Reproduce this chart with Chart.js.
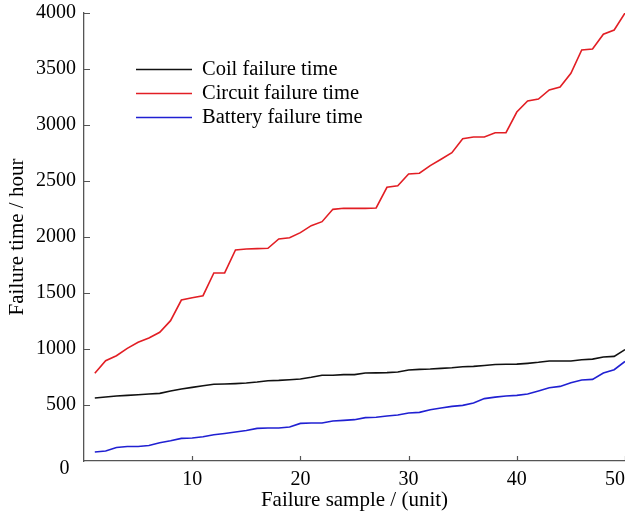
<!DOCTYPE html>
<html>
<head>
<meta charset="utf-8">
<script src="https://cdn.jsdelivr.net/npm/chart.js@4.4.0/dist/chart.umd.min.js"></script>
<style>
  html, body { margin: 0; padding: 0; background: #fff; }
  #wrap { width: 625px; height: 513px; }
</style>
</head>
<body>
<div id="wrap"><canvas id="grafico"></canvas></div>
<script>
// muestras 1..50
const muestras = Array.from({ length: 50 }, (_, i) => i + 1);

const coilFailure = [562, 571, 580, 586, 592, 598, 604, 625, 643, 657,
    672, 685, 688, 691, 696, 705, 717, 720, 726, 732,
    747, 765, 765, 771, 771, 786, 787, 789, 795, 812,
    818, 821, 827, 833, 842, 845, 853, 862, 864, 865,
    872, 881, 893, 893, 893, 904, 910, 929, 934, 995];

const circuitFailure = [783, 896, 940, 1006, 1060, 1098, 1149, 1253, 1437, 1458,
    1476, 1679, 1679, 1884, 1893, 1896, 1899, 1982, 1994, 2039,
    2101, 2137, 2247, 2256, 2256, 2256, 2259, 2444, 2458, 2562,
    2569, 2637, 2694, 2753, 2878, 2893, 2893, 2931, 2931, 3116,
    3214, 3232, 3313, 3339, 3461, 3670, 3679, 3810, 3848, 4000];

const batteryFailure = [80, 89, 121, 130, 130, 139, 163, 181, 202, 205,
    217, 235, 246, 259, 273, 291, 295, 295, 304, 336,
    339, 339, 357, 363, 369, 387, 391, 402, 411, 429,
    434, 458, 473, 488, 497, 518, 557, 570, 580, 586,
    598, 625, 654, 666, 699, 723, 729, 786, 815, 889];

const xTicks = [0, 10, 20, 30, 40, 50];
const yTicks = [0, 500, 1000, 1500, 2000, 2500, 3000, 3500, 4000];

const toPoints = arr => arr.map((v, i) => ({ x: muestras[i], y: v }));

const fuente = "'Liberation Serif', 'DejaVu Serif', serif";
Chart.defaults.font.family = fuente;
Chart.defaults.font.size = 20;
Chart.defaults.color = '#000';

// ticks hacia dentro + etiqueta del cero (va un poco mas abajo en el original)
const ticksInternos = {
    id: 'ticksInternos',
    afterDatasetsDraw(chart) {
        const { ctx, chartArea, scales } = chart;
        ctx.save();
        ctx.strokeStyle = '#555';
        ctx.lineWidth = 1.2;
        ctx.beginPath();
        xTicks.forEach(t => {
            if (t === 0) return;
            const px = Math.round(scales.x.getPixelForValue(t)) + 0.5;
            ctx.moveTo(px, chartArea.bottom);
            ctx.lineTo(px, chartArea.bottom - 5);
        });
        yTicks.forEach(t => {
            if (t === 0) return;
            const py = Math.round(scales.y.getPixelForValue(t)) + 0.5;
            ctx.moveTo(chartArea.left, py);
            ctx.lineTo(chartArea.left + 6, py);
        });
        ctx.stroke();

        ctx.font = '20px ' + fuente;
        ctx.fillStyle = '#000';
        ctx.textAlign = 'center';
        ctx.textBaseline = 'middle';
        ctx.fillText(String(yTicks[0]), chartArea.left - 19.5, scales.y.getPixelForValue(yTicks[0]) + 8);
        ctx.restore();
    }
};

// leyenda dentro del grafico
const leyenda = {
    id: 'leyenda',
    afterDatasetsDraw(chart) {
        const { ctx } = chart;
        ctx.save();
        ctx.font = '20.5px ' + fuente;
        ctx.textBaseline = 'middle';
        ctx.textAlign = 'left';
        chart.data.datasets.forEach((ds, i) => {
            const y = 69 + i * 24;
            ctx.strokeStyle = ds.borderColor;
            ctx.lineWidth = 1.6;
            ctx.beginPath();
            ctx.moveTo(136, y + 0.5);
            ctx.lineTo(192, y + 0.5);
            ctx.stroke();
            ctx.fillStyle = '#000';
            ctx.fillText(ds.label, 202, y + 1);
        });
        ctx.restore();
    }
};

new Chart(document.getElementById('grafico'), {
    type: 'line',
    data: {
        datasets: [
            { label: 'Coil failure time', data: toPoints(coilFailure), borderColor: '#111111', borderWidth: 1.6, pointRadius: 0, tension: 0 },
            { label: 'Circuit failure time', data: toPoints(circuitFailure), borderColor: 'rgb(226,30,36)', borderWidth: 1.6, pointRadius: 0, tension: 0 },
            { label: 'Battery failure time', data: toPoints(batteryFailure), borderColor: 'rgb(32,32,210)', borderWidth: 1.6, pointRadius: 0, tension: 0 }
        ]
    },
    options: {
        responsive: true,
        maintainAspectRatio: false,
        animation: false,
        layout: { padding: { top: 13, right: 0, left: 0, bottom: 0 } },
        plugins: { legend: { display: false }, tooltip: { enabled: false } },
        scales: {
            x: {
                type: 'linear',
                min: 0,
                max: 50,
                afterBuildTicks: s => { s.ticks = xTicks.map(v => ({ value: v })); },
                ticks: { callback: v => (v === 0 ? '' : String(v)), padding: 7, maxRotation: 0, autoSkip: false, align: 'inner' },
                grid: { display: false, drawTicks: false },
                border: { display: true, color: '#555', width: 1.3 },
                title: { display: true, text: 'Failure sample / (unit)', font: { size: 21 }, padding: { top: 0, bottom: 0 } },
                afterFit: s => { s.height = 52; s.paddingLeft = 0; s.paddingRight = 0; }
            },
            y: {
                min: 0,
                max: 4000,
                afterBuildTicks: s => { s.ticks = yTicks.map(v => ({ value: v })); },
                ticks: { callback: v => (v === 0 ? '' : String(v)), padding: 8 },
                grid: { display: false, drawTicks: false },
                border: { display: true, color: '#555', width: 1.3 },
                title: { display: true, text: 'Failure time / hour', font: { size: 21 }, padding: { top: 5, bottom: 0 } },
                afterFit: s => { s.width = 84; s.paddingTop = 0; s.paddingBottom = 0; }
            }
        }
    },
    plugins: [ticksInternos, leyenda]
});
</script>
</body>
</html>
